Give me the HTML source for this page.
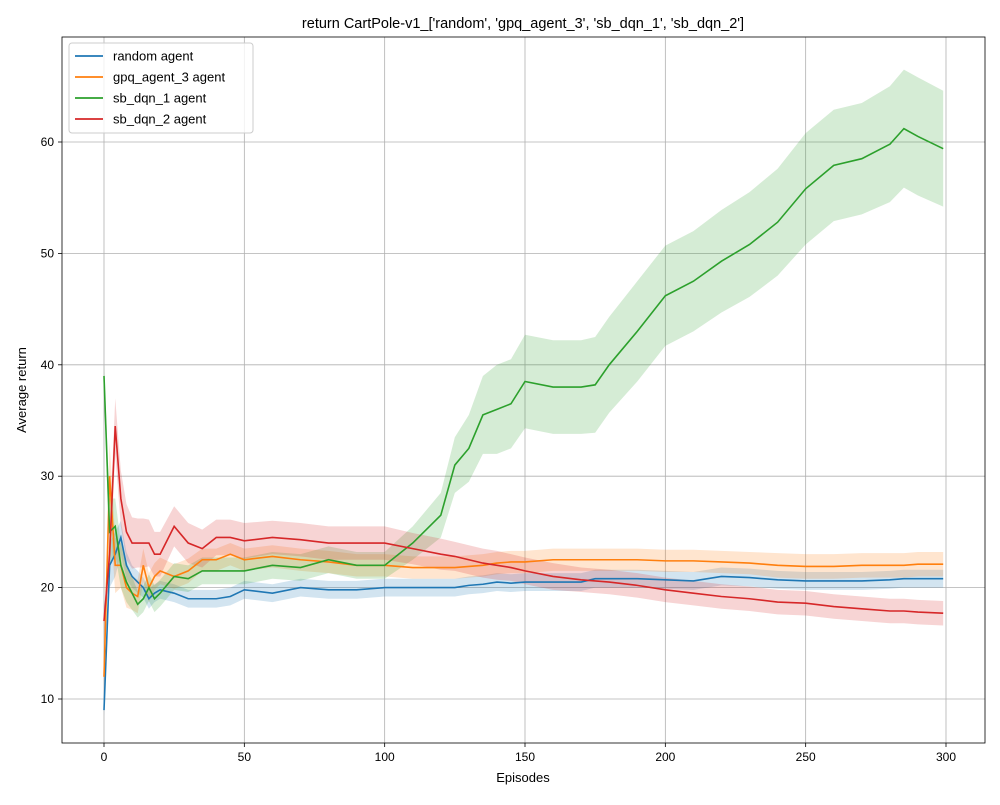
<!DOCTYPE html>
<html><head><meta charset="utf-8"><style>
body{margin:0;background:#fff;font-family:"Liberation Sans","DejaVu Sans",sans-serif}
svg text{font-family:"Liberation Sans","DejaVu Sans",sans-serif}
</style></head><body>
<svg id="chart" width="1000" height="800"></svg>
<script>
const episodes=[0,2,4,6,8,10,12,14,16,18,20,25,30,35,40,45,50,60,70,80,90,100,110,120,125,130,135,140,145,150,160,170,175,180,190,200,210,220,230,240,250,260,270,280,285,290,299];
const randomVals=[9,22,23,24.5,22,21,20.5,20,19,19.5,19.8,19.5,19,19,19,19.2,19.8,19.5,20,19.8,19.8,20,20,20,20,20.2,20.3,20.5,20.4,20.5,20.5,20.5,20.8,20.8,20.8,20.7,20.6,21,20.9,20.7,20.6,20.6,20.6,20.7,20.8,20.8,20.8];
const gpqVals=[12,30,22,22,20,19.5,19.2,22,20,21,21.5,21,21.5,22.5,22.5,23,22.5,22.8,22.5,22.3,22,22,21.8,21.8,21.8,21.9,22,22.2,22.3,22.3,22.5,22.5,22.5,22.5,22.5,22.4,22.4,22.3,22.2,22,21.9,21.9,22,22,22,22.1,22.1];
const sb1Vals=[39,25,25.5,22,20.5,19.5,18.5,19,20,19,19.5,21,20.8,21.5,21.5,21.5,21.5,22,21.8,22.5,22,22,24,26.5,31,32.5,35.5,36,36.5,38.5,38,38,38.2,40,43,46.2,47.5,49.3,50.8,52.8,55.8,57.9,58.5,59.8,61.2,60.5,59.4];
const sb2Vals=[17,23,34.5,28,25,24,24,24,24,23,23,25.5,24,23.5,24.5,24.5,24.2,24.5,24.3,24,24,24,23.5,23,22.8,22.5,22.2,22,21.8,21.5,21,20.7,20.6,20.5,20.2,19.8,19.5,19.2,19,18.7,18.6,18.3,18.1,17.9,17.9,17.8,17.7];
const randomErr=[0.5,2,2,1.5,1.2,1,1,0.9,0.9,0.8,0.8,0.8,0.8,0.8,0.8,0.8,0.8,0.8,0.8,0.8,0.8,0.8,0.8,0.8,0.8,0.8,0.8,0.8,0.8,0.8,0.8,0.8,0.8,0.8,0.8,0.8,0.8,0.8,0.8,0.8,0.8,0.8,0.8,0.8,0.8,0.8,0.8];
const gpqErr=[1,3,2.5,2,1.8,1.5,1.5,1.5,1.3,1.2,1.2,1.1,1.1,1,1,1,1,1,1,1,1,1,1,1,1,1,1,1,1,1,1,1,1,1,1,1,1,1,1,1.1,1.1,1.1,1.1,1.1,1.1,1.1,1.1];
const sb1Err=[1,3,2.5,2,1.8,1.5,1.2,1.2,1.2,1.2,1.2,1.2,1.2,1.2,1.2,1.2,1.2,1.2,1.2,1.2,1.2,1.2,1.5,2,2.5,3,3.5,4,4,4.2,4.2,4.2,4.3,4.3,4.5,4.5,4.5,4.6,4.7,4.8,5,5,5,5.2,5.3,5.3,5.2];
const sb2Err=[1,2,2.5,2.5,2.5,2.3,2.2,2.2,2.1,2,2,1.8,1.8,1.7,1.6,1.6,1.6,1.5,1.5,1.5,1.5,1.5,1.4,1.4,1.3,1.3,1.3,1.3,1.2,1.2,1.2,1.1,1.1,1.1,1.1,1.1,1.1,1.1,1.1,1.1,1.1,1.1,1.1,1.1,1.1,1.1,1.1];
const xTicks=[0,50,100,150,200,250,300];
const yTicks=[10,20,30,40,50,60];
const seriesNames=["random agent","gpq_agent_3 agent","sb_dqn_1 agent","sb_dqn_2 agent"];
const colors=["#1f77b4","#ff7f0e","#2ca02c","#d62728"];

const NS="http://www.w3.org/2000/svg";
const svg=document.getElementById('chart');
const L=62,R=985,T=37,B=743;
const xS=v=>104+(v-0)*(946-104)/300;
const yS=v=>699+(v-10)*(142-699)/50;
function mk(tag,attrs,parent){const e=document.createElementNS(NS,tag);for(const k in attrs)e.setAttribute(k,attrs[k]);(parent||svg).appendChild(e);return e;}

const grid=mk('g',{});


xTicks.forEach(t=>{
  mk('line',{x1:xS(t),x2:xS(t),y1:T,y2:B,stroke:'#b0b0b0','stroke-width':0.8},grid);
  mk('line',{x1:xS(t),x2:xS(t),y1:B,y2:B+4,stroke:'#000','stroke-width':0.8},grid);
  const tx=mk('text',{x:xS(t),y:B+18,'text-anchor':'middle','font-size':12},grid);tx.textContent=t;
  
  
});
yTicks.forEach(t=>{
  mk('line',{x1:L,x2:R,y1:yS(t),y2:yS(t),stroke:'#b0b0b0','stroke-width':0.8},grid);
  mk('line',{x1:L-4,x2:L,y1:yS(t),y2:yS(t),stroke:'#000','stroke-width':0.8},grid);
  const tx=mk('text',{x:L-8,y:yS(t)+4,'text-anchor':'end','font-size':12},grid);tx.textContent=t;
  
  
});

const vals=[randomVals,gpqVals,sb1Vals,sb2Vals];
const errs=[randomErr,gpqErr,sb1Err,sb2Err];
const keys=['random','gpq-agent-3','sb-dqn-1','sb-dqn-2'];
vals.forEach((v,i)=>{
  let up=episodes.map((e,j)=>xS(e)+','+yS(v[j]+errs[i][j]));
  let dn=episodes.map((e,j)=>xS(e)+','+yS(v[j]-errs[i][j])).reverse();
  const b=mk('polygon',{points:up.concat(dn).join(' '),fill:colors[i],'fill-opacity':0.2});
  
  
});
vals.forEach((v,i)=>{
  const p=mk('polyline',{points:episodes.map((e,j)=>xS(e)+','+yS(v[j])).join(' '),fill:'none',stroke:colors[i],'stroke-width':1.6});
  
  
});
const frame=mk('rect',{x:L,y:T,width:R-L,height:B-T,fill:'none',stroke:'#000','stroke-width':0.8});



const title=mk('text',{x:523,y:28,'text-anchor':'middle','font-size':14.5});
title.textContent="return CartPole-v1_['random', 'gpq_agent_3', 'sb_dqn_1', 'sb_dqn_2']";


const xt=mk('text',{x:523,y:782,'text-anchor':'middle','font-size':13});xt.textContent='Episodes';


const yt=mk('text',{x:26,y:390,'text-anchor':'middle','font-size':13,transform:'rotate(-90 26 390)'});yt.textContent='Average return';



const lg=mk('g',{});


mk('rect',{x:69,y:43,width:184,height:90,rx:3,fill:'#fff','fill-opacity':0.8,stroke:'#ccc'},lg);
seriesNames.forEach((n,i)=>{
  const y=56+i*21;
  const ent=mk('g',{},lg);
  
  
  mk('line',{x1:75,x2:103,y1:y,y2:y,stroke:colors[i],'stroke-width':1.8},ent);
  const t=mk('text',{x:113,y:y+4.5,'font-size':13},ent);t.textContent=n;
});
</script>
</body></html>
